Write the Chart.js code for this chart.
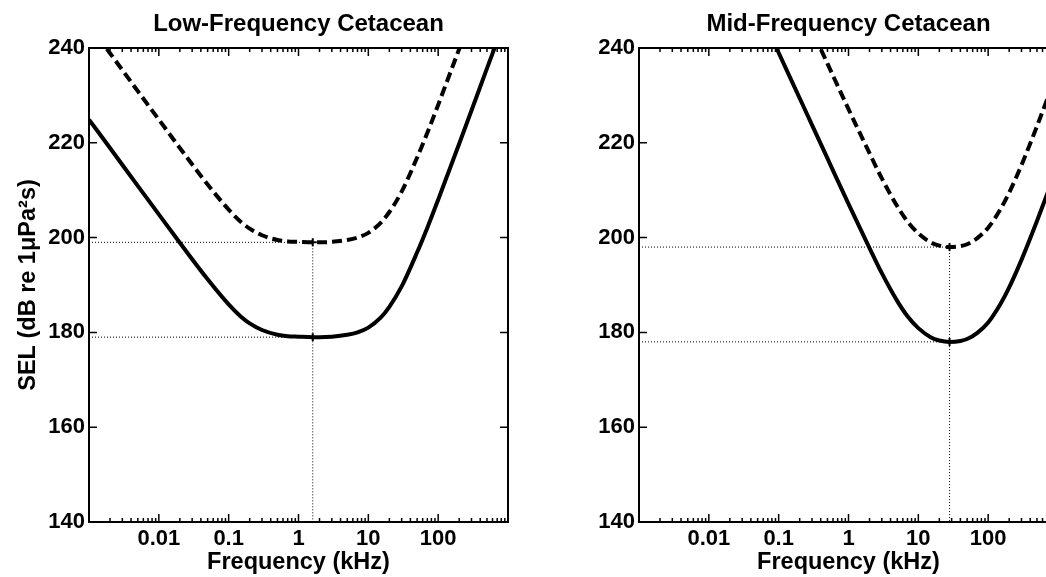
<!DOCTYPE html>
<html>
<head>
<meta charset="utf-8">
<script src="https://cdn.jsdelivr.net/npm/chart.js@4.4.0/dist/chart.umd.min.js"></script>
<style>
html,body{margin:0;padding:0;background:#fff;overflow:hidden;width:1046px;height:577px;position:relative}
canvas{position:absolute;top:0}
#lfCanvas{left:0}
#mfCanvas{left:520px}
</style>
</head>
<body>
<canvas id="lfCanvas" width="520" height="577"></canvas>
<canvas id="mfCanvas" width="560" height="577"></canvas>
<script>
// ===================== AXES =====================
const freqRange=[0.001,1000];
const freqTicks=[0.01,0.1,1,10,100];
const freqTickLabels=['0.01','0.1','1','10','100'];
const selRange=[140,240];
const selTicks=[140,160,180,200,220,240];

// ===================== LOW-FREQUENCY =====================
const lfFreqs=[0.001,0.002,0.005,0.01,0.02,0.05,0.1,0.15,0.2,0.3,0.5,0.7,1,1.6,2,3,5,7,10,15,20,30,50,70,100,150,200,300,500,700,1000];
const lfTTS=[224.9,218.9,210.9,204.9,198.9,191.2,185.9,183.3,181.9,180.5,179.5,179.2,179.1,179.0,179.0,179.1,179.5,180.0,181.0,183.1,185.4,189.7,196.9,202.1,208.0,214.9,219.8,226.8,235.7,241.5,247.7];
const lfPTS=[244.9,238.9,230.9,224.9,218.9,211.2,205.9,203.3,201.9,200.5,199.5,199.2,199.1,199.0,199.0,199.1,199.5,200.0,201.0,203.1,205.4,209.7,216.9,222.1,228.0,234.9,239.8,246.8,255.7,261.5,267.7];
const lfPeak=1.6, lfTTSmin=179, lfPTSmin=199;

// ===================== MID-FREQUENCY =====================
const mfFreqs=[0.001,0.01,0.05,0.1,0.2,0.5,1,2,3,5,7,10,15,20,28,40,50,70,100,150,200,300,500,700,1000];
const mfTTS=[303.0,271.0,248.7,239.0,229.4,216.7,207.1,197.8,192.5,186.6,183.4,180.9,179.0,178.3,178.0,178.2,178.6,179.9,182.1,186.0,189.5,195.3,203.5,209.2,215.3];
const mfPTS=[323.0,291.0,268.7,259.0,249.4,236.7,227.1,217.8,212.5,206.6,203.4,200.9,199.0,198.3,198.0,198.2,198.6,199.9,202.1,206.0,209.5,215.3,223.5,229.2,235.3];
const mfPeak=28, mfTTSmin=178, mfPTSmin=198;

const FONT='"Liberation Sans", Arial, Helvetica, sans-serif';
Chart.defaults.font.family=FONT;
Chart.defaults.color='#000';

// ticks inward + closed box
const boxTicks={
  id:'boxTicks',
  afterDatasetsDraw(chart){
    const {ctx,chartArea:a,scales:{x,y}}=chart;
    ctx.save();
    ctx.strokeStyle='#000';
    ctx.lineWidth=1.5;
    ctx.beginPath();
    const e0=Math.round(Math.log10(freqRange[0])), e1=Math.round(Math.log10(freqRange[1]));
    for(let e=e0;e<e1;e++){
      for(let k=1;k<10;k++){
        const px=x.getPixelForValue(k*Math.pow(10,e));
        const len=k===1?8:4;
        ctx.moveTo(px,a.bottom);ctx.lineTo(px,a.bottom-len);
        ctx.moveTo(px,a.top);ctx.lineTo(px,a.top+len);
      }
    }
    selTicks.forEach(v=>{
      const py=y.getPixelForValue(v);
      ctx.moveTo(a.left,py);ctx.lineTo(a.left+8,py);
      ctx.moveTo(a.right,py);ctx.lineTo(a.right-8,py);
    });
    ctx.stroke();
    ctx.lineWidth=2;
    ctx.strokeRect(a.left,a.top,a.right-a.left,a.bottom-a.top);
    ctx.restore();
  }
};

function pts(xs,ys){return xs.map((f,i)=>({x:f,y:ys[i]}));}

function makeChart(id,title,freqs,tts,pts_,peak,ttsMin,ptsMin,yTitle,yWidth,padRight){
  const dotted={borderColor:'#000',borderWidth:1,borderDash:[1,2],pointRadius:0,fill:false,tension:0};
  return new Chart(document.getElementById(id).getContext('2d'),{
    type:'line',
    data:{datasets:[
      {label:'PTS',data:pts(freqs,pts_),borderColor:'#000',borderWidth:4,borderDash:[10,5],pointRadius:0,cubicInterpolationMode:'monotone'},
      {label:'TTS',data:pts(freqs,tts),borderColor:'#000',borderWidth:4,pointRadius:0,cubicInterpolationMode:'monotone'},
      {label:'h1',data:[{x:freqRange[0],y:ptsMin},{x:peak,y:ptsMin}],...dotted},
      {label:'h2',data:[{x:freqRange[0],y:ttsMin},{x:peak,y:ttsMin}],...dotted},
      {label:'v',data:[{x:peak,y:ptsMin},{x:peak,y:selRange[0]}],...dotted},
      {label:'min',data:[{x:peak,y:ptsMin},{x:peak,y:ttsMin}],showLine:false,pointStyle:'cross',pointRadius:4,pointBorderWidth:2,borderColor:'#000'}
    ]},
    options:{responsive:false,animation:false,events:[],
      layout:{padding:{left:0,right:padRight,top:0,bottom:0}},
      plugins:{legend:{display:false},tooltip:{enabled:false},
        title:{display:true,text:title,fullSize:false,color:'#000',font:{size:24,weight:'bold',family:FONT},padding:{top:9.6,bottom:9.6}}},
      scales:{
        x:{type:'logarithmic',min:freqRange[0],max:freqRange[1],
          afterBuildTicks:s=>{s.ticks=freqTicks.map(v=>({value:v}));},
          ticks:{autoSkip:false,maxRotation:0,minRotation:0,padding:4,color:'#000',font:{size:22,weight:'bold',family:FONT},
            callback:v=>{const i=freqTicks.indexOf(v);return i<0?'':freqTickLabels[i];}},
          grid:{display:false,drawTicks:false},border:{display:false},
          title:{display:true,text:'Frequency (kHz)',color:'#000',font:{size:23.5,weight:'bold',family:FONT},padding:0},
          afterFit:s=>{s.height=55;}},
        y:{min:selRange[0],max:selRange[1],
          afterBuildTicks:s=>{s.ticks=selTicks.map(v=>({value:v}));},
          ticks:{padding:4,color:'#000',font:{size:22,weight:'bold',family:FONT}},
          grid:{display:false,drawTicks:false},border:{display:false},
          title:{display:!!yTitle,text:yTitle||'',color:'#000',font:{size:23.5,weight:'bold',family:FONT},padding:{top:14,bottom:0}},
          afterFit:s=>{s.width=yWidth;}}
      }
    },
    plugins:[boxTicks]
  });
}

makeChart('lfCanvas','Low-Frequency Cetacean',lfFreqs,lfTTS,lfPTS,lfPeak,lfTTSmin,lfPTSmin,'SEL (dB re 1\u03bcPa\u00b2s)',89,12);
makeChart('mfCanvas','Mid-Frequency Cetacean',mfFreqs,mfTTS,mfPTS,mfPeak,mfTTSmin,mfPTSmin,null,119,22);
</script>
</body>
</html>
